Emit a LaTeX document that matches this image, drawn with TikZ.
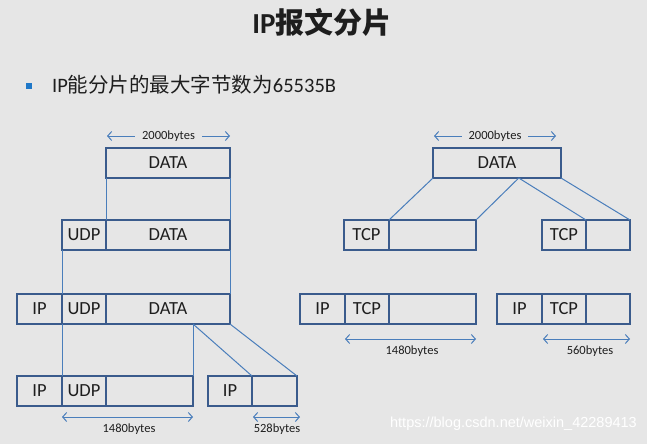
\documentclass[tikz,border=0pt]{standalone}
\usepackage{fontspec}
\setmainfont{Carlito}
\newfontfamily\cjk{Noto Sans CJK SC}
\newfontfamily\wmfont{Liberation Sans}
\usetikzlibrary{arrows.meta,calc}
\definecolor{bg}{HTML}{E6E6E6}
\definecolor{boxc}{HTML}{3A5B8C}
\definecolor{linec}{HTML}{4A7EBB}
\definecolor{txt}{HTML}{1E1E1E}
\definecolor{bul}{HTML}{1F78C8}
\tikzset{
  cell/.style={draw=boxc, line width=2.4pt, minimum height=30pt, inner sep=0pt, outer sep=0pt,
    anchor=north west, text=txt, font=\fontsize{18.5}{18.5}\selectfont},
  conn/.style={draw=linec, line width=1pt},
  dim/.style={draw=linec, line width=1pt, {Straight Barb[length=4pt,width=9pt]}-{Straight Barb[length=4pt,width=9pt]}},
  lbl/.style={text=txt, font=\fontsize{12.5}{12.5}\selectfont, inner sep=0pt},
}
\begin{document}
\begin{tikzpicture}[x=1pt,y=-1pt]
\fill[bg] (0,0) rectangle (647,444);
\useasboundingbox (0,0) rectangle (647,444);

% title and bullet
\node[text=txt, font=\fontsize{29}{29}\selectfont\bfseries] (title) at (322,22) {IP{\cjk 报文分片}};
\fill[bul] (26,83) rectangle (32,89);
\node[anchor=west, text=txt, font=\fontsize{20.5}{20.5}\selectfont, inner sep=0pt] (bullet) at (52,85) {IP{\cjk 能分片的最大字节数为}65535B};

% ---------- left diagram ----------
\node[cell, minimum width=124pt] (dA) at (106,148) {DATA};

\node[cell, minimum width=44pt] (uB) at (62,220) {UDP};
\node[cell, minimum width=124pt] (dB) at (106,220) {DATA};

\node[cell, minimum width=45pt] (ipC) at (17,294) {IP};
\node[cell, minimum width=44pt] (uC) at (62,294) {UDP};
\node[cell, minimum width=124pt] (dC) at (106,294) {DATA};

\node[cell, minimum width=45pt] (ipD) at (17,376) {IP};
\node[cell, minimum width=44pt] (uD) at (62,376) {UDP};
\node[cell, minimum width=87pt] (dD) at (106,376) {};

\node[cell, minimum width=44pt] (ipE) at (208,376) {IP};
\node[cell, minimum width=45pt] (dE) at (252,376) {};

\coordinate (cutL) at (dD.north east |- dC.south);

\draw[conn] (dA.south west) -- (dB.north west);
\draw[conn] (dA.south east) -- (dB.north east);
\draw[conn] (uB.south west) -- (uC.north west);
\draw[conn] (dB.south east) -- (dC.north east);
\draw[conn] (uC.south west) -- (uD.north west);
\draw[conn] (cutL) -- (dD.north east);
\draw[conn] (cutL) -- (dE.north west);
\draw[conn] (dC.south east) -- (dE.north east);

\draw[dim] (107,136) -- node[lbl, fill=bg, inner xsep=7pt] (l2000a) {2000bytes} (230,136);
\coordinate (a1s) at ($(uD.south west)+(0,11)$);
\coordinate (a1e) at ($(dD.south east)+(0,11)$);
\draw[dim] (a1s) -- (a1e);
\node[lbl] (l1480a) at (129,429) {1480bytes};
\coordinate (a2s) at ($(dE.south west)+(1,11)$);
\coordinate (a2e) at ($(dE.south east)+(3,11)$);
\draw[dim] (a2s) -- (a2e);
\node[lbl] (l528) at (277,429) {528bytes};

% ---------- right diagram ----------
\node[cell, minimum width=128pt] (rD) at (433,148) {DATA};

\node[cell, minimum width=45pt] (tL) at (344,220) {TCP};
\node[cell, minimum width=87pt] (eL) at (389,220) {};
\node[cell, minimum width=44pt] (tR) at (542,220) {TCP};
\node[cell, minimum width=44pt] (eR) at (586,220) {};

\node[cell, minimum width=45pt] (ipL) at (300,294) {IP};
\node[cell, minimum width=44pt] (tL2) at (345,294) {TCP};
\node[cell, minimum width=87pt] (eL2) at (389,294) {};
\node[cell, minimum width=45pt] (ipR) at (497,294) {IP};
\node[cell, minimum width=44pt] (tR2) at (542,294) {TCP};
\node[cell, minimum width=44pt] (eR2) at (586,294) {};

\coordinate (split) at ($(rD.south west)!0.67!(rD.south east)$);
\draw[conn] (rD.south west) -- (eL.north west);
\draw[conn] (split) -- (eL.north east);
\draw[conn] (split) -- (eR.north west);
\draw[conn] (rD.south east) -- (eR.north east);

\draw[dim] (434,136) -- node[lbl, fill=bg, inner xsep=7pt] (l2000b) {2000bytes} (556,136);
\coordinate (b1s) at ($(tL2.south west)+(0,15)$);
\coordinate (b1e) at ($(eL2.south east)+(0,15)$);
\draw[dim] (b1s) -- (b1e);
\node[lbl] (l1480b) at (412,351) {1480bytes};
\coordinate (b2s) at ($(eR2.south west)+(-43,15)$);
\coordinate (b2e) at ($(eR2.south east)+(0,15)$);
\draw[dim] (b2s) -- (b2e);
\node[lbl] (l560) at (590,351) {560bytes};

% watermark
\node[anchor=east, text=white, font=\wmfont\fontsize{14.5}{14.5}\selectfont, inner sep=0pt] (wm) at (637,424) {https://blog.csdn.net/weixin\_42289413};
\end{tikzpicture}
\end{document}
